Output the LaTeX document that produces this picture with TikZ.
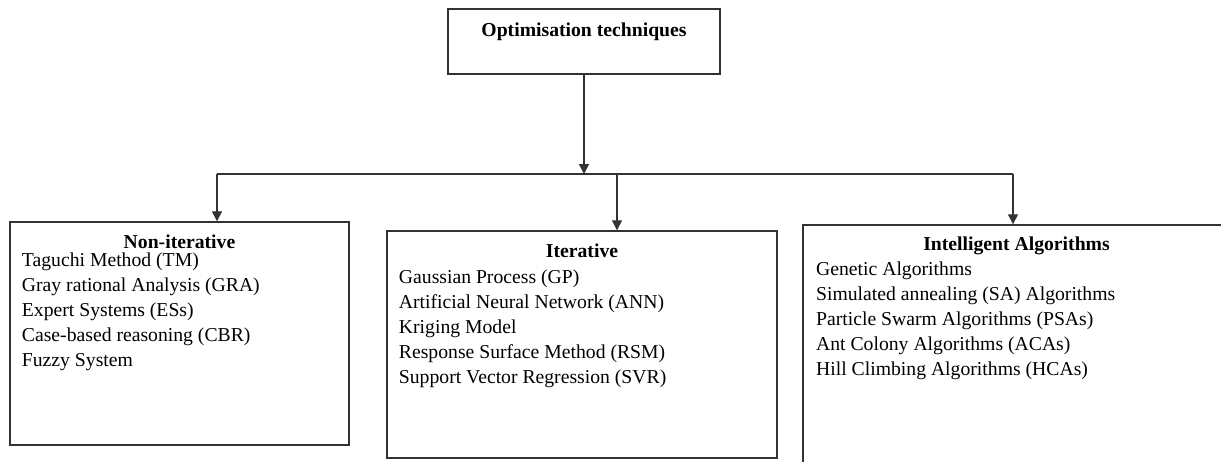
\documentclass[tikz,border=0pt]{standalone}
\usepackage{fontspec}
\setmainfont{Liberation Serif}
\usetikzlibrary{positioning,arrows.meta}
\tikzset{box/.style={draw=black!80, line width=1pt, inner sep=0pt},
  heading/.style={anchor=base, inner sep=0pt, font=\fontsize{14pt}{17pt}\selectfont\bfseries},
  item list/.style={align=left, inner sep=0pt, font=\fontsize{14pt}{17.8pt}\selectfont},}

\begin{document}
\begin{tikzpicture}[x=0.025cm, y=-0.025cm, line width=1pt,
    >={Triangle[width=0.25cm,length=0.25cm]}]
        \clip (0,0) rectangle (1221,461);
        % Boxes
        \node[box, minimum width=6.8cm, minimum height=1.625cm] (opt) at (584,41.5) {};
        \node[box, minimum width=8.475cm, minimum height=5.575cm] (noniter) at (179.5,333.5) {};
        \node[box, minimum width=9.75cm, minimum height=5.675cm] (iter) at (582,344.5) {};
        \node[box, minimum width=10.675cm, minimum height=6.25cm] (intel) at (1016.5,350) {};
        % Titles
        \node[heading] (opt title) at ([yshift=-0.7cm]opt.north) {Optimisation techniques};
        \node[heading] (noniter title) at ([yshift=-0.675cm]noniter.north) {Non-iterative};
        \node[heading] (iter title) at ([yshift=-0.675cm]iter.north) {Iterative};
        \node[heading] (intel title) at ([yshift=-0.65cm]intel.north) {Intelligent Algorithms};
        % Methods
        \node[item list, anchor=north west] [below right = 0.78cm and 0.3cm of noniter.north west] (noniter list)
          {Taguchi Method (TM)\\ Gray rational Analysis (GRA)\\ Expert Systems (ESs)\\
           Case-based reasoning (CBR)\\ Fuzzy System};
        \node[item list, anchor=north west] [below right = 0.96cm and 0.3cm of iter.north west] (iter list)
          {Gaussian Process (GP)\\ Artificial Neural Network (ANN)\\ Kriging Model\\
           Response Surface Method (RSM)\\ Support Vector Regression (SVR)};
        \node[item list, anchor=north west] [below right = 0.91cm and 0.33cm of intel.north west] (intel list)
          {Genetic Algorithms\\ Simulated annealing (SA) Algorithms\\ Particle Swarm Algorithms (PSAs)\\
           Ant Colony Algorithms (ACAs)\\ Hill Climbing Algorithms (HCAs)};
        % Branches
        \coordinate (bus) at (584,174);
        \coordinate (bus left) at (217,174);
        \coordinate (bus mid) at (617,174);
        \coordinate (bus right) at (1013,174);
        \draw[draw=black!80] (bus left) -- (bus right);
        \draw[->, draw=black!80] (opt) -- (bus);
        \draw[->, draw=black!80] (bus left) -- (bus left |- noniter.north);
        \draw[->, draw=black!80] (bus mid) -- (bus mid |- iter.north);
        \draw[->, draw=black!80] (bus right) -- (bus right |- intel.north);
    \end{tikzpicture}
\end{document}
